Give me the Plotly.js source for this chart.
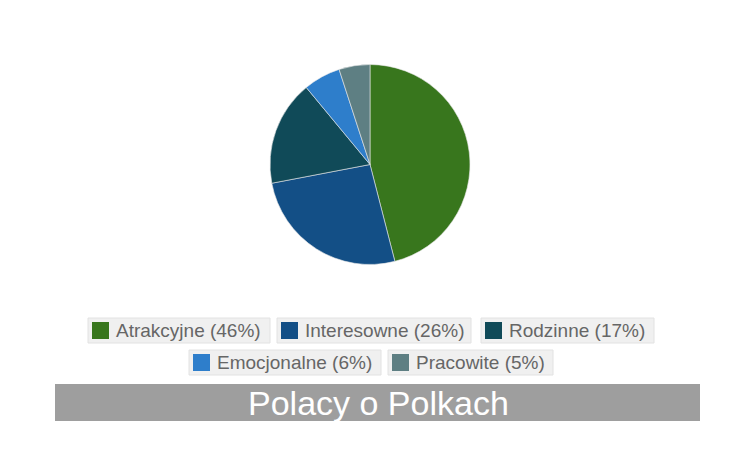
<!DOCTYPE html>
<html>
<head>
<meta charset="utf-8">
<script src="https://cdn.plot.ly/plotly-3.0.1.min.js"></script>
<style>
  body { margin: 0; background: #fff; }
  #graphDiv { width: 744px; height: 459px; }
</style>
</head>
<body>
<div id="graphDiv"></div>
<script>
var W = 744, H = 459;

// chart data
var labels = ['Atrakcyjne', 'Interesowne', 'Rodzinne', 'Emocjonalne', 'Pracowite'];
var values = [46, 26, 17, 6, 5];
var colors = ['#38761d', '#134f86', '#104a58', '#2e7ecb', '#5e7f83'];
var chartTitle = 'Polacy o Polkach';

// legend box placement in pixels: left, top, width
var legendBoxes = [[88, 318, 182], [277, 318, 194], [481, 318, 173], [189, 350, 192], [388, 350, 165]];
var boxH = 25;

function px(x) { return x / W; }
function py(y) { return 1 - y / H; }

var total = values.reduce(function(a, b) { return a + b; }, 0);

var trace = {
  type: 'pie',
  labels: labels,
  values: values,
  sort: false,
  direction: 'clockwise',
  rotation: 0,
  textinfo: 'none',
  hoverinfo: 'label+percent',
  marker: {colors: colors, line: {color: '#e8e8e8', width: 0.6}},
  domain: {x: [px(270), px(470)], y: [py(265), py(64)]},
  showlegend: false
};

var shapes = [];
var annotations = [];

for (var i = 0; i < labels.length; i++) {
  var b = legendBoxes[i];
  shapes.push({
    type: 'rect', xref: 'paper', yref: 'paper',
    x0: px(b[0]), x1: px(b[0] + b[2]), y0: py(b[1]), y1: py(b[1] + boxH),
    fillcolor: '#f0f0f0', line: {color: '#e2e2e2', width: 1}
  });
  shapes.push({
    type: 'rect', xref: 'paper', yref: 'paper',
    x0: px(b[0] + 4), x1: px(b[0] + 21), y0: py(b[1] + 4), y1: py(b[1] + 21),
    fillcolor: colors[i], line: {width: 0}
  });
  annotations.push({
    xref: 'paper', yref: 'paper',
    x: px(b[0] + 26), y: py(b[1] + boxH / 2),
    xanchor: 'left', yanchor: 'middle',
    text: labels[i] + ' (' + Math.round(values[i] / total * 100) + '%)',
    showarrow: false,
    font: {family: 'Arial', size: 19, color: '#666666'}
  });
}

// title bar
shapes.push({
  type: 'rect', xref: 'paper', yref: 'paper',
  x0: px(55), x1: px(700), y0: py(384), y1: py(421),
  fillcolor: '#9e9e9e', line: {width: 0}
});
annotations.push({
  xref: 'paper', yref: 'paper',
  x: px(378), y: py(403), xanchor: 'center', yanchor: 'middle',
  text: chartTitle, showarrow: false,
  font: {family: 'Arial', size: 34, color: '#ffffff'}
});

var layout = {
  width: W,
  height: H,
  margin: {l: 0, r: 0, t: 0, b: 0},
  paper_bgcolor: '#ffffff',
  showlegend: false,
  shapes: shapes,
  annotations: annotations
};

Plotly.newPlot('graphDiv', [trace], layout, {displayModeBar: false, staticPlot: true});
</script>
</body>
</html>
